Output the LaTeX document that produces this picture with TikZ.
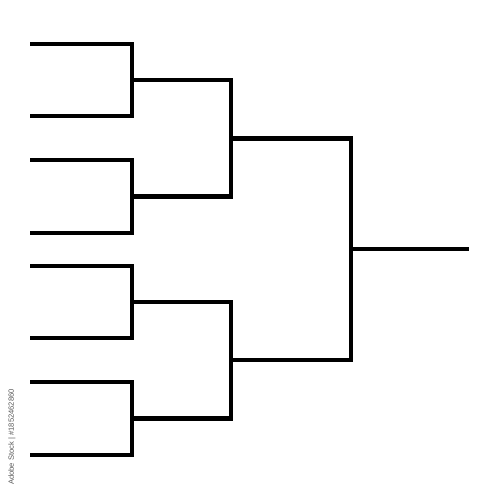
\documentclass[tikz,border=0pt]{standalone}
\usepackage{fontspec}
\newfontfamily\wmfont{Liberation Sans}
\begin{document}
\begin{tikzpicture}[x=1pt,y=-1pt,
  bracket/.style={line width=4.5pt, line join=miter, line cap=butt, black},
  wmark/.style={font=\wmfont\fontsize{7.6}{8}\selectfont, text=black!65, rotate=90, inner sep=0pt}]
\useasboundingbox[fill=white] (0,0) rectangle (500,500);
% leaf starts
\coordinate (L1) at (30,44);
\coordinate (L2) at (30,116);
\coordinate (L3) at (30,160);
\coordinate (L4) at (30,233);
\coordinate (L5) at (30,266);
\coordinate (L6) at (30,338);
\coordinate (L7) at (30,382);
\coordinate (L8) at (30,455);
% round 1 junctions
\coordinate (A1) at (132,80);
\coordinate (A2) at (132,196.5);
\coordinate (A3) at (132,302);
\coordinate (A4) at (132,418.5);
% round 2 junctions
\coordinate (B1) at (231,138.5);
\coordinate (B2) at (231,360);
% final
\coordinate (C) at (351,249);
\coordinate (W) at (469,249);
\draw[bracket] (L1) -| (A1) |- (L2);
\draw[bracket] (L3) -| (A2) |- (L4);
\draw[bracket] (L5) -| (A3) |- (L6);
\draw[bracket] (L7) -| (A4) |- (L8);
\draw[bracket] (A1) -| (B1) |- (A2);
\draw[bracket] (A3) -| (B2) |- (A4);
\draw[bracket] (B1) -| (C) |- (B2);
\draw[bracket] (C) -- (W);
\node[wmark] (wm) at (12,437) {Adobe Stock | \#1852462860};
\end{tikzpicture}
\end{document}
